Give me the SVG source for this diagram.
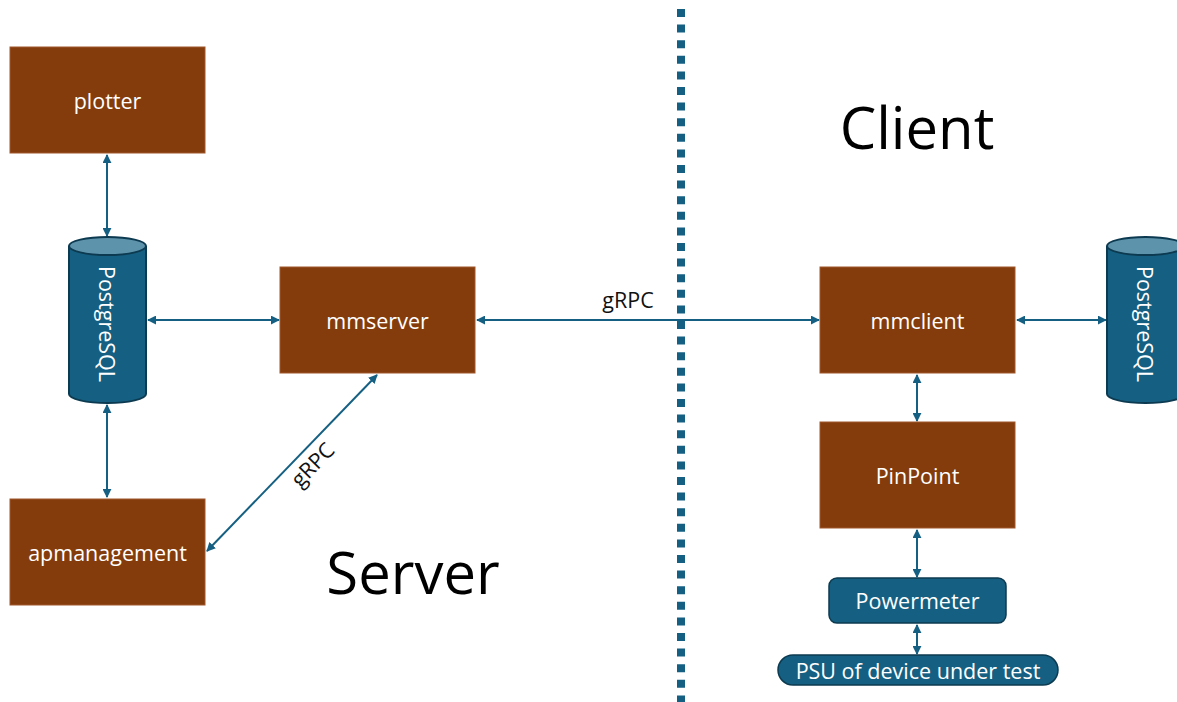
<svg xmlns="http://www.w3.org/2000/svg" width="1177" height="702" viewBox="0 0 1177 702">
  <style>
    .box { fill: #843C0C; stroke: #A0562A; stroke-width: 1; }
    .dev { fill: #156082; stroke: #0C3A50; stroke-width: 1.5; }
    .cyl { fill: #156082; stroke: #0C3A50; stroke-width: 2; }
    .cyltop { fill: #5E93AC; stroke: #0C3A50; stroke-width: 2; }
    .lbl { font-family: "Open Sans", "Noto Sans", sans-serif; font-size: 21.5px; fill: #FFFFFF; text-anchor: middle; dominant-baseline: central; }
    .edge { stroke: #156082; stroke-width: 2; fill: none; marker-start: url(#ah); marker-end: url(#ah); }
    .elbl { font-family: "Open Sans", "Noto Sans", sans-serif; font-size: 21.5px; fill: #111111; text-anchor: middle; }
    .big { font-family: "Open Sans", "Noto Sans", sans-serif; font-size: 58px; fill: #000000; text-anchor: middle; }
  </style>
  <defs>
    <marker id="ah" viewBox="0 0 10 10" refX="9" refY="5" markerWidth="4.5" markerHeight="4.5" orient="auto-start-reverse" markerUnits="strokeWidth">
      <path d="M0,0 L10,5 L0,10 Z" fill="#156082"/>
    </marker>
  </defs>

  <rect width="1177" height="702" fill="#FFFFFF"/>

  <!-- divider between server and client -->
  <line x1="681" y1="9" x2="681" y2="702" stroke="#156082" stroke-width="8" stroke-dasharray="8 7.6"/>

  <text class="big" x="917" y="149">Client</text>
  <text class="big" x="413" y="594">Server</text>

  <g id="connectors">
    <line class="edge" x1="107" y1="155" x2="107" y2="236"/>
    <line class="edge" x1="107" y1="405" x2="107" y2="497"/>
    <line class="edge" x1="148" y1="320" x2="279" y2="320"/>
    <line class="edge" x1="477" y1="320" x2="819" y2="320"/>
    <text class="elbl" x="628" y="308">gRPC</text>
    <line class="edge" x1="377" y1="375" x2="207" y2="551"/>
    <text class="elbl" transform="translate(318,470) rotate(-46)" x="0" y="0">gRPC</text>
    <line class="edge" x1="1017" y1="320" x2="1106" y2="320"/>
    <line class="edge" x1="917" y1="375" x2="917" y2="421"/>
    <line class="edge" x1="917" y1="530" x2="917" y2="577"/>
    <line class="edge" x1="917" y1="625" x2="917" y2="654"/>
  </g>

  <g id="plotter">
    <rect class="box" x="10" y="47" width="195" height="106"/>
    <text class="lbl" x="107.5" y="100">plotter</text>
  </g>

  <g id="postgres-server">
    <path class="cyl" d="M69,246 L69,394 A38.5,9 0 0 0 146,394 L146,246"/>
    <ellipse class="cyltop" cx="107.5" cy="246" rx="38.5" ry="9"/>
    <text class="lbl" transform="translate(107,324) rotate(90)" x="0" y="0">PostgreSQL</text>
  </g>

  <g id="mmserver">
    <rect class="box" x="280" y="267" width="195" height="106"/>
    <text class="lbl" x="377.5" y="320">mmserver</text>
  </g>

  <g id="apmanagement">
    <rect class="box" x="10" y="499" width="195" height="106"/>
    <text class="lbl" x="107.5" y="552">apmanagement</text>
  </g>

  <g id="mmclient">
    <rect class="box" x="820" y="267" width="195" height="106"/>
    <text class="lbl" x="917.5" y="320">mmclient</text>
  </g>

  <g id="postgres-client">
    <path class="cyl" d="M1107,246 L1107,394 A38.5,9 0 0 0 1184,394 L1184,246"/>
    <ellipse class="cyltop" cx="1145.5" cy="246" rx="38.5" ry="9"/>
    <text class="lbl" transform="translate(1145,324) rotate(90)" x="0" y="0">PostgreSQL</text>
  </g>

  <g id="pinpoint">
    <rect class="box" x="820" y="422" width="195" height="106"/>
    <text class="lbl" x="917.5" y="475">PinPoint</text>
  </g>

  <g id="powermeter">
    <rect class="dev" x="829" y="578" width="177" height="45" rx="8"/>
    <text class="lbl" x="917.5" y="600.5">Powermeter</text>
  </g>

  <g id="psu">
    <rect class="dev" x="778" y="655" width="280" height="30" rx="15"/>
    <text class="lbl" x="918" y="670">PSU of device under test</text>
  </g>
</svg>
